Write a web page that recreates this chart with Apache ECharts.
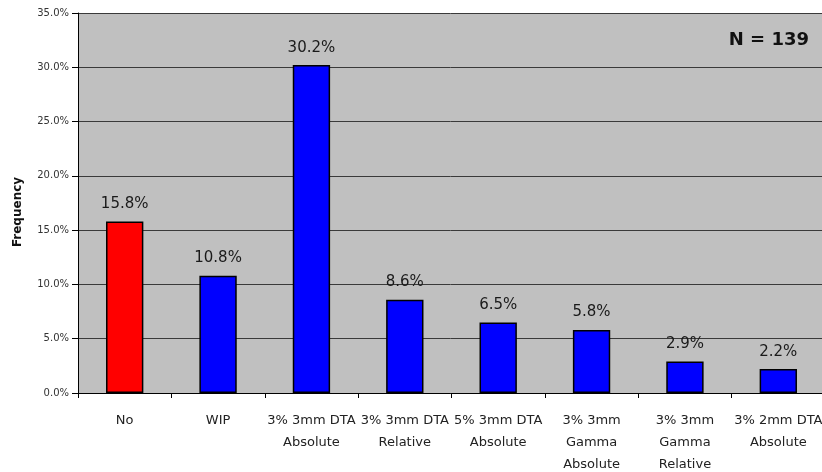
<!DOCTYPE html>
<html>
<head>
<meta charset="utf-8">
<script src="https://cdn.jsdelivr.net/npm/echarts@6/dist/echarts.min.js"></script>
<style>
  html, body { margin: 0; padding: 0; background: #ffffff; }
  #chart { width: 822px; height: 472px; }
</style>
</head>
<body>
<div id="chart"></div>
<script>
// Test criteria along the x axis
var categories = [
  'No',
  'WIP',
  '3% 3mm DTA\nAbsolute',
  '3% 3mm DTA\nRelative',
  '5% 3mm DTA\nAbsolute',
  '3% 3mm\nGamma\nAbsolute',
  '3% 3mm\nGamma\nRelative',
  '3% 2mm DTA\nAbsolute'
];
// Frequency of each criterion, in percent
var frequency = [15.8, 10.8, 30.2, 8.6, 6.5, 5.8, 2.9, 2.2];
// Bar fill per category
var barColors = ['#ff0000', '#0000ff', '#0000ff', '#0000ff', '#0000ff', '#0000ff', '#0000ff', '#0000ff'];
var sampleSize = 139;

var chart = echarts.init(document.getElementById('chart'), null, { renderer: 'canvas' });

var seriesData = frequency.map(function (v, i) {
  return { value: v, itemStyle: { color: barColors[i] } };
});

chart.setOption({
  animation: false,
  backgroundColor: '#ffffff',
  grid: {
    left: 78,
    right: -3,
    top: 13,
    bottom: 79,
    outerBoundsMode: 'none',
    containLabel: false,
    show: true,
    backgroundColor: '#c0c0c0',
    borderWidth: 0
  },
  xAxis: {
    type: 'category',
    data: categories,
    axisLine: { show: true, lineStyle: { color: '#000000', width: 1 } },
    axisTick: { show: true, alignWithLabel: false, length: 5, lineStyle: { color: '#000000' } },
    axisLabel: {
      interval: 0,
      color: '#222222',
      fontFamily: 'DejaVu Sans',
      fontSize: 13,
      lineHeight: 22,
      margin: 17,
      verticalAlign: 'top'
    }
  },
  yAxis: {
    type: 'value',
    min: 0,
    max: 35,
    interval: 5,
    name: 'Frequency',
    nameLocation: 'middle',
    nameGap: 54,
    nameRotate: 90,
    nameTextStyle: {
      fontFamily: 'DejaVu Sans',
      fontSize: 12,
      fontWeight: 'bold',
      color: '#111111',
      padding: [0, 18, 0, 0]
    },
    axisLine: { show: true, lineStyle: { color: '#000000', width: 1 } },
    axisTick: { show: true, inside: false, length: 6, lineStyle: { color: '#000000' } },
    axisLabel: {
      color: '#333333',
      fontFamily: 'DejaVu Sans',
      fontSize: 10,
      margin: 9,
      formatter: function (v) { return v.toFixed(1) + '%'; }
    },
    splitLine: { show: true, lineStyle: { color: '#3a3a3a', width: 1 } }
  },
  series: [{
    type: 'bar',
    data: seriesData,
    barWidth: '40%',
    itemStyle: { borderColor: '#000000', borderWidth: 1.5 },
    label: {
      show: true,
      position: 'top',
      distance: 10,
      color: '#1a1a1a',
      fontFamily: 'DejaVu Sans',
      fontSize: 15,
      formatter: function (p) { return p.value.toFixed(1) + '%'; }
    }
  }],
  graphic: [{
    type: 'text',
    right: 13,
    top: 31,
    style: {
      text: 'N = ' + sampleSize,
      fontFamily: 'DejaVu Sans',
      fontSize: 18,
      fontWeight: 'bold',
      fill: '#111111'
    }
  }]
});
</script>
</body>
</html>
